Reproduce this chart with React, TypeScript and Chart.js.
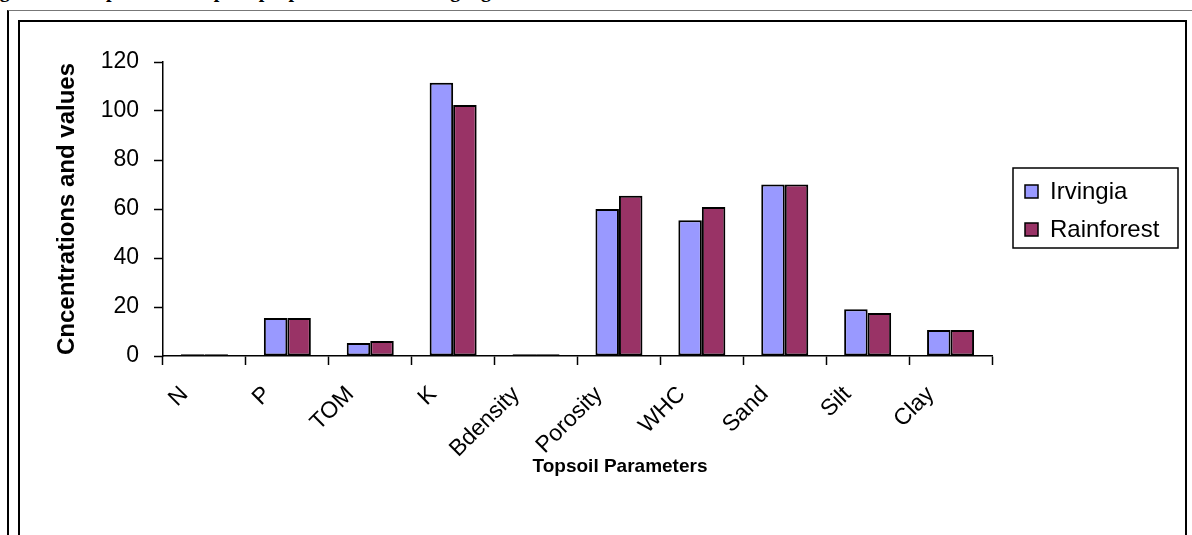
import React, { useEffect, useRef } from 'react';
import { Chart, registerables } from 'chart.js';

Chart.register(...registerables);

const categories = ['N', 'P', 'TOM', 'K', 'Bdensity', 'Porosity', 'WHC', 'Sand', 'Silt', 'Clay'];
const irvingia = [0.7, 15.5, 5.3, 111.5, 0.7, 60, 55.4, 70, 19.1, 10.6];
const rainforest = [0.7, 15.5, 6.1, 102.4, 0.7, 65.4, 60.8, 70, 17.6, 10.6];
const yTicks = [0, 20, 40, 60, 80, 100, 120];
const seriesNames = ['Irvingia', 'Rainforest'];
const seriesColors = ['#9999FF', '#993366'];
const xTitle = 'Topsoil Parameters';
const yTitle = 'Cncentrations and values';
const caption = 'Figure 2: Comparison of topsoil properties under Irvingia gabonensis and rainforest';

const FONT = '"Liberation Sans", Arial, sans-serif';

const legendBox = {
  id: 'legendBox',
  afterDraw(chart: any) {
    const ctx = chart.ctx;
    const x0 = 992, y0 = 145, w = 165, h = 80;
    ctx.save();
    ctx.lineWidth = 1.5;
    ctx.strokeStyle = '#000';
    ctx.strokeRect(x0, y0, w, h);
    chart.data.datasets.forEach((ds: any, i: number) => {
      const cy = y0 + 23 + i * 38;
      ctx.fillStyle = ds.backgroundColor;
      ctx.fillRect(1004, cy - 6, 13, 13);
      ctx.lineWidth = 1.5;
      ctx.strokeRect(1004, cy - 6, 13, 13);
      ctx.fillStyle = '#000';
      ctx.font = '24px ' + FONT;
      ctx.textBaseline = 'middle';
      ctx.textAlign = 'left';
      ctx.fillText(ds.label, 1029, cy + 1);
    });
    // x-axis title
    ctx.font = 'bold 19px ' + FONT;
    ctx.textAlign = 'center';
    ctx.textBaseline = 'middle';
    ctx.fillStyle = '#000';
    ctx.fillText(xTitle, 599, 444);
    ctx.restore();
  },
};

export default function App() {
  const ref = useRef<HTMLCanvasElement | null>(null);

  useEffect(() => {
    if (!ref.current) return;
    const mk = (i: number, data: number[]) => ({
      label: seriesNames[i],
      data,
      backgroundColor: seriesColors[i],
      borderColor: '#000',
      borderWidth: 2,
      borderSkipped: false,
      categoryPercentage: 0.567,
      barPercentage: 1,
    });
    const chart = new Chart(ref.current, {
      type: 'bar',
      data: {
        labels: categories,
        datasets: [mk(0, irvingia), mk(1, rainforest)],
      },
      options: {
        responsive: false,
        animation: false,
        maintainAspectRatio: false,
        layout: { padding: { left: 0, right: 192, top: 39, bottom: 0 } },
        plugins: {
          legend: { display: false },
          tooltip: { enabled: false },
        },
        scales: {
          x: {
            offset: true,
            afterFit: (s: any) => { s.height = 179; },
            grid: {
              offset: true,
              drawOnChartArea: false,
              drawTicks: true,
              tickLength: 9,
              tickWidth: 1.5,
              tickColor: '#000',
            },
            border: { display: true, color: '#000', width: 1.5 },
            ticks: {
              color: '#000',
              font: { family: FONT, size: 23 },
              minRotation: 45,
              maxRotation: 45,
              padding: 16,
              labelOffset: -20,
              autoSkip: false,
            },
            title: { display: false },
          },
          y: {
            min: 0,
            max: 120,
            afterFit: (s: any) => { s.width = 142; },
            afterBuildTicks: (s: any) => { s.ticks = yTicks.map((v) => ({ value: v })); },
            grid: {
              drawOnChartArea: false,
              drawTicks: true,
              tickLength: 9,
              tickWidth: 1.5,
              tickColor: '#000',
            },
            border: { display: true, color: '#000', width: 1.5 },
            ticks: {
              color: '#000',
              font: { family: FONT, size: 23 },
              padding: 15,
            },
            title: {
              display: true,
              text: yTitle,
              color: '#000',
              font: { family: FONT, size: 24, weight: 'bold' },
              padding: { top: 32, bottom: 0 },
            },
          },
        },
      },
      plugins: [legendBox],
    } as any);
    return () => chart.destroy();
  }, []);

  return (
    <div style={{ position: 'absolute', left: 0, top: 0, width: 1192, height: 535, overflow: 'hidden', background: '#fff' }}>
      <div
        style={{
          position: 'absolute',
          left: -18,
          top: -20,
          whiteSpace: 'nowrap',
          font: 'bold 20px "Liberation Serif", "Times New Roman", serif',
          lineHeight: 1,
          color: '#000',
        }}
      >
        {caption}
      </div>
      <div style={{ position: 'absolute', left: 7, top: 10, width: 1300, height: 700, borderLeft: '2px solid #000', borderTop: '1px solid #777' }} />
      <div style={{ position: 'absolute', left: 18, top: 20, width: 1165, height: 700, border: '2px solid #000' }} />
      <canvas ref={ref} width={1163} height={512} style={{ position: 'absolute', left: 21, top: 23, width: 1163, height: 512 }} />
    </div>
  );
}
